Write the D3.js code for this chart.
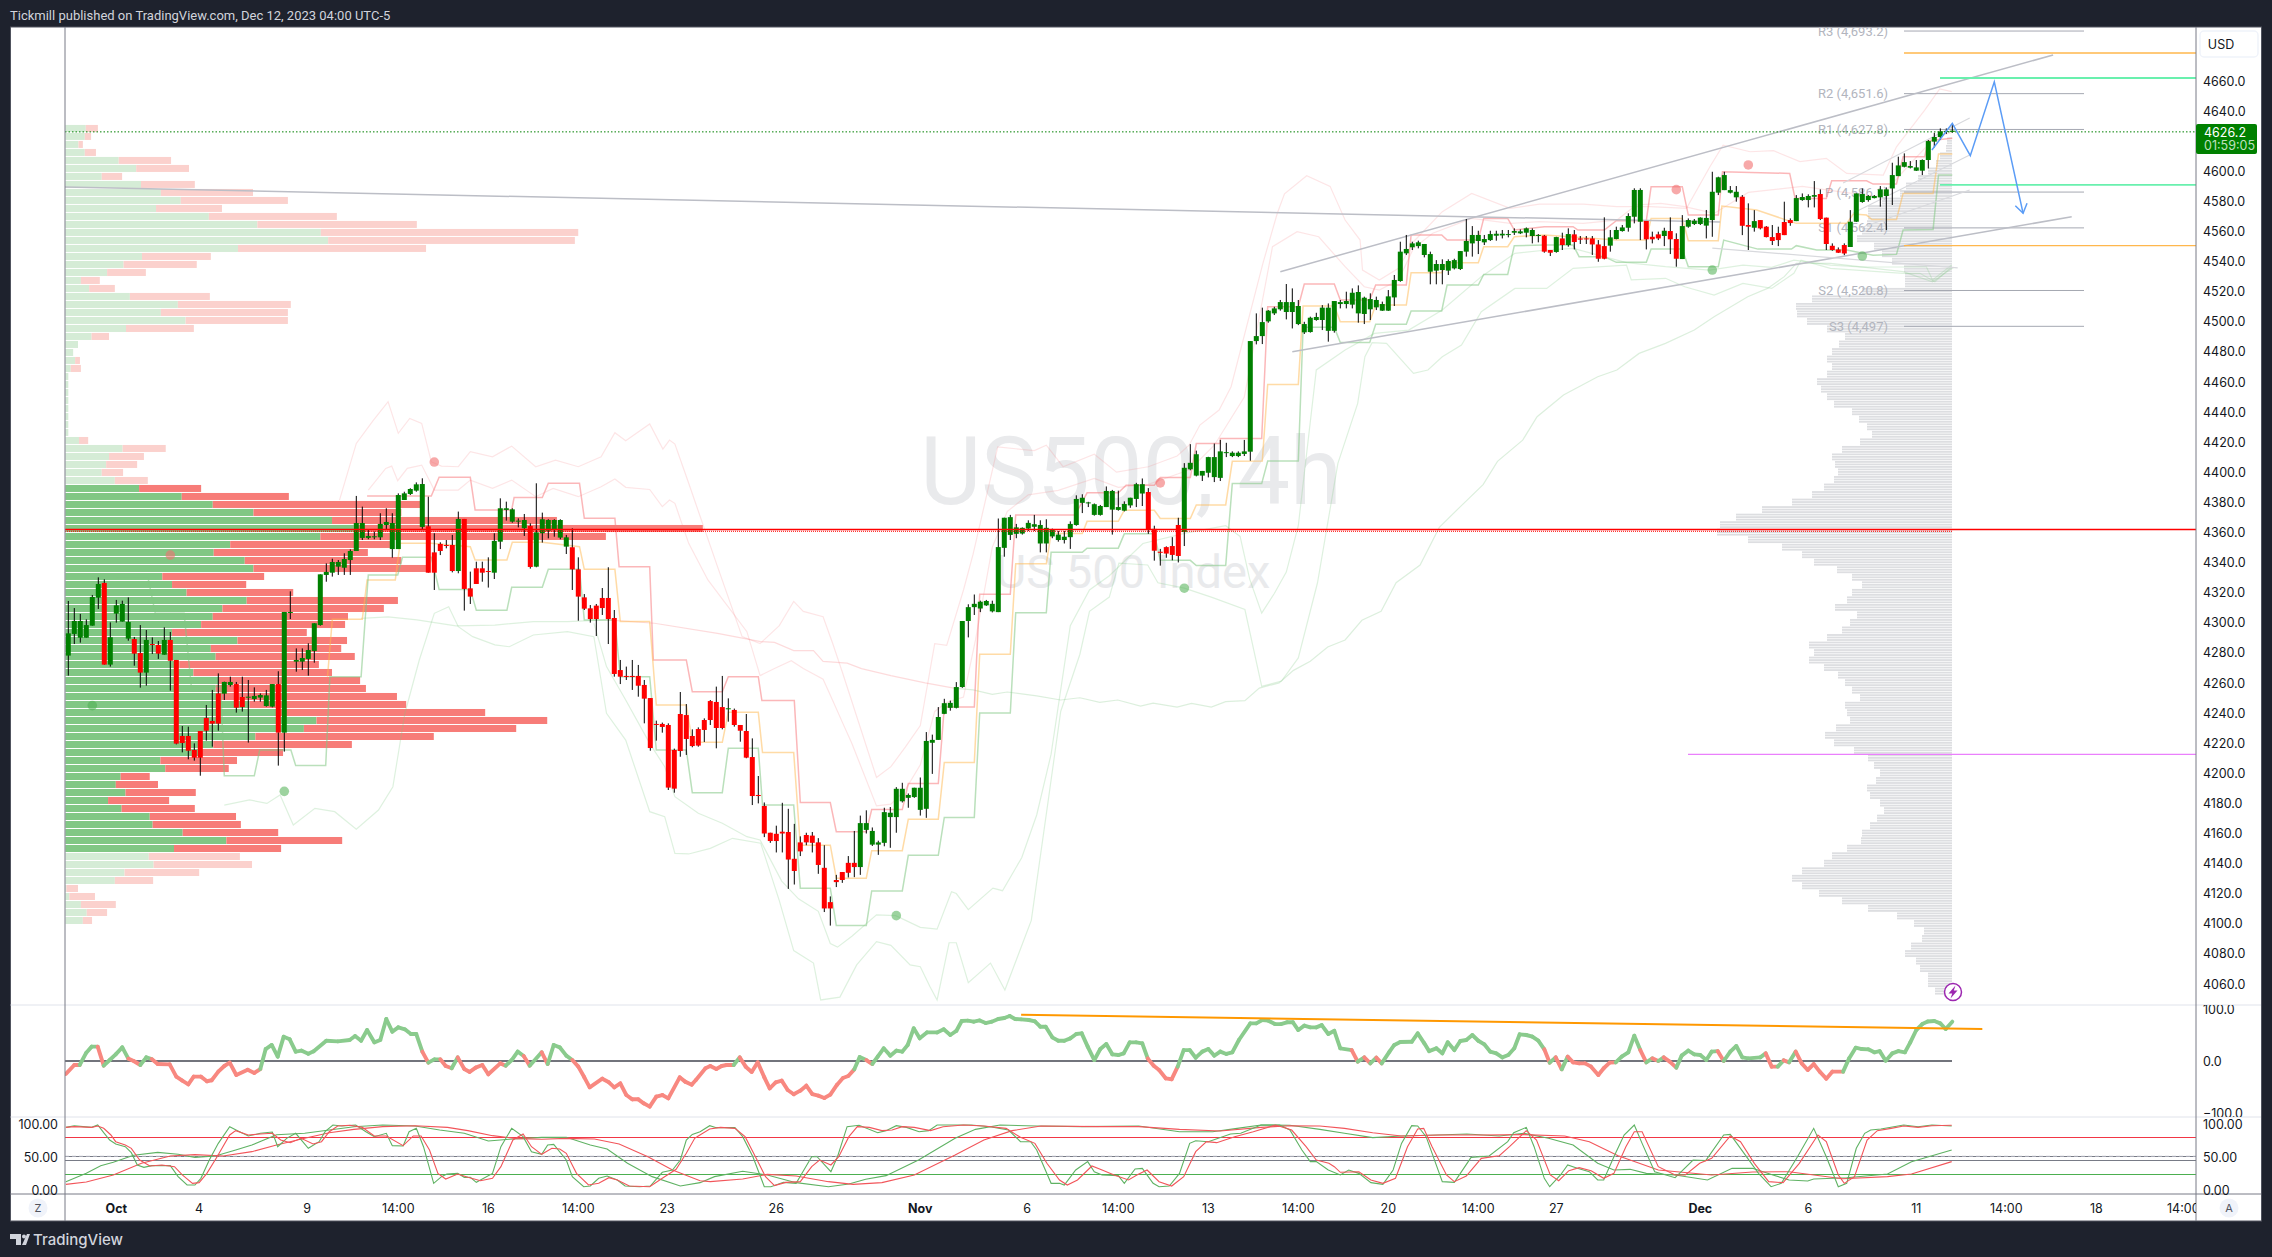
<!DOCTYPE html>
<html><head><meta charset="utf-8">
<style>html,body{margin:0;padding:0;background:#1e222d}svg{display:block}text{font-family:Inter,Roboto,"Liberation Sans",sans-serif}</style>
<script src="https://cdn.jsdelivr.net/npm/d3@7"></script></head><body><svg id="c" width="2272" height="1257"></svg>
<script>
// body top, body bottom, wick high, wick low per 4h bar
const candleRows=[[4293,4278.2,4314.5,4264.9],[4301.2,4292.6,4309.8,4285.9],[4301.2,4290.1,4305.9,4286.8],[4298.5,4290.1,4302.3,4290.1],[4317.2,4298.1,4318.5,4298.1],[4325.8,4316.7,4330.2,4309.2],[4326.5,4272.2,4328.9,4272.2],[4290.4,4272.2,4300.3,4270.9],[4311.6,4306.1,4315.2,4300.1],[4312.5,4300.8,4314.7,4300.8],
[4300.5,4289.5,4316.9,4288.1],[4289.2,4279.5,4290.6,4271.5],[4279.9,4266.9,4298.5,4256.9],[4288.6,4266.9,4295.2,4258.2],[4285.9,4285.3,4290.3,4279.3],[4285.3,4279.5,4287.9,4276],[4288.6,4278.8,4297,4278.8],[4288.6,4274.8,4293.9,4254.9],[4275.3,4219.7,4275.3,4219.2],[4224.8,4220.1,4231.4,4213.9],
[4224.8,4215,4231,4209.3],[4215.5,4210.4,4219.9,4208.4],[4228.1,4210.4,4228.1,4198.4],[4236.8,4228.3,4245.4,4221.7],[4234.8,4233,4255.4,4217.7],[4253.1,4233,4266.4,4228.3],[4260.7,4252.9,4260.9,4248.7],[4260.7,4258.7,4264.2,4257.6],[4259.3,4243.6,4260.7,4240.3],[4250.7,4244,4264.2,4241],
[4250.9,4250.3,4262,4220.4],[4251.4,4249.4,4257.1,4247.6],[4252,4250.3,4253.1,4247.6],[4251.8,4244.7,4255.4,4244.3],[4259.3,4244.3,4259.3,4243.8],[4259.3,4227,4267.8,4205.1],[4307.2,4227,4307.2,4214.4],[4307.2,4306.5,4320.9,4302.5],[4275.3,4274.2,4283,4267.5],[4276.6,4274.2,4283,4268.6],
[4281.9,4276,4286.4,4264.9],[4299.7,4281.3,4299.7,4273.5],[4332.2,4298.5,4332.2,4298.1],[4333.8,4331.8,4339.5,4327.3],[4340.4,4333.3,4342.6,4330.7],[4340.4,4337.3,4341.7,4331.8],[4342.4,4336.6,4346.2,4331.8],[4347.7,4341.7,4348.8,4331.8],[4366.3,4347.7,4384.3,4347.7],[4366.3,4356.4,4377.2,4355],
[4357.7,4356.4,4361.7,4355.5],[4357.5,4356.8,4360.6,4355.5],[4365.7,4356.8,4372.8,4355],[4367,4365,4376.1,4361.7],[4366.3,4349,4372.8,4343.3],[4384.9,4349,4386,4349],[4386,4381.6,4387.1,4381.6],[4388.9,4385.6,4389.4,4384.9],[4392,4387.8,4393.3,4387.1],[4392.2,4363.7,4396,4361.7],
[4364.1,4333.3,4383.8,4333.3],[4346.8,4333.3,4359.5,4321.8],[4352.4,4347.7,4353.5,4345],[4351.7,4351.3,4355,4349.5],[4351.7,4334.4,4358.4,4333.5],[4369,4334.4,4373.9,4332.9],[4369,4322.5,4369,4308.1],[4322.9,4317.4,4334,4312.5],[4336.2,4325.8,4340.6,4325.8],[4336.2,4333.3,4340.6,4327.3],
[4334.4,4333.8,4343.5,4323.4],[4354.4,4333.3,4359.5,4329.1],[4376.1,4353.9,4382.7,4349],[4376.1,4375,4380.5,4367.9],[4375.4,4367.2,4376.1,4366.5],[4367.9,4367.2,4369.4,4363.4],[4368.3,4362.8,4372.3,4357.7],[4364.3,4337.1,4366.1,4336],[4360.1,4337.3,4392.7,4336.9],[4368.8,4359.5,4373.2,4353.3],
[4368.3,4361.2,4368.8,4356.1],[4368.3,4361.7,4368.8,4357.2],[4368.3,4356.6,4368.8,4355.5],[4356.8,4350.6,4358.4,4345.7],[4350.2,4335.5,4362.8,4321.8],[4335.5,4317.4,4343.5,4301.4],[4316.9,4309.4,4319.1,4308.5],[4309.6,4302.5,4311.8,4300.1],[4311.4,4302.5,4312.5,4291.2],[4316.5,4309.8,4323.1,4305.2],
[4316.5,4302.5,4336.9,4285.9],[4303.2,4266,4308.5,4264.2],[4268.6,4264.2,4275.3,4259.3],[4264.7,4264,4270.9,4262],[4264.7,4264,4275.3,4255.4],[4264.7,4258.2,4272,4250.9],[4258.7,4249.6,4262,4233.2],[4250,4216.8,4250,4215],[4232.8,4232.1,4235,4221.7],[4232.8,4230.8,4233.7,4227],
[4232.1,4190.5,4233.2,4188.9],[4215.5,4189.8,4216.4,4187.1],[4239.4,4214.8,4254,4211],[4238.7,4222.8,4246,4212.2],[4224.8,4218.1,4229.2,4217.3],[4229.4,4218.4,4230.5,4217.7],[4235.4,4228.8,4236.5,4220.8],[4248,4235.4,4248.7,4232.1],[4247.4,4230.1,4257.6,4216.6],[4244,4230.1,4264.7,4229.2],
[4243.2,4242.7,4249.8,4234.3],[4242.1,4232.1,4243,4231],[4232.1,4228.3,4232.1,4221],[4228.1,4210.4,4239.4,4210],[4210.8,4184.9,4223.2,4178.9],[4185.6,4184.9,4198.2,4180],[4178.3,4160,4180.6,4157.6],[4160.5,4155,4160.5,4153.8],[4159.8,4155,4165.2,4147.4],[4161.2,4160,4180.4,4147.4],
[4161,4142.7,4176.4,4123.2],[4143.2,4135.1,4166.4,4126.1],[4154.1,4148.1,4158.1,4145],[4159,4154.1,4160.5,4152.2],[4158.6,4153.8,4161,4147.4],[4154.1,4139.1,4156.9,4133.2],[4137.2,4110.2,4152.2,4107.8],[4114.4,4110.2,4118.2,4098.8],[4129.1,4127.7,4132.5,4124.4],[4134.4,4129.1,4134.4,4127.2],
[4140.5,4133.9,4145,4130.8],[4140.5,4137.7,4161.7,4131],[4166.9,4137.7,4171.9,4132.5],[4166.9,4162.4,4175.4,4160],[4161.7,4152.6,4164,4151.7],[4154.1,4152.6,4155.2,4145.8],[4174.2,4153.8,4177.1,4151.5],[4173.8,4170.9,4177.6,4150.5],[4189.7,4170.9,4190.8,4160.5],[4189.7,4181.4,4193.7,4180.6],
[4185.6,4183.7,4186.6,4177.1],[4190.4,4184.2,4190.4,4183.7],[4190.4,4175.7,4197.2,4171.9],[4221.5,4176.4,4227.4,4170.4],[4222.2,4220.3,4225.7,4199.6],[4237.4,4222.2,4244,4222.2],[4246.6,4239.5,4249.5,4239.3],[4246.8,4243.5,4248.3,4241.6],[4257.3,4243.5,4260.6,4243.1],[4301.2,4257.3,4301.2,4256.8],
[4310.4,4301.2,4312.3,4290.3],[4312.6,4310.4,4318.8,4305.2],[4314,4309.5,4314.7,4307.1],[4314.5,4311.6,4315.2,4311.2],[4312.6,4307.6,4314.7,4306.9],[4350.3,4307.1,4369.3,4307.1],[4369.8,4349.8,4369.8,4343.9],[4370.2,4358.4,4371.7,4355],[4363.4,4359.1,4365.7,4356.2],[4363.1,4359.3,4363.4,4358.6],
[4366.4,4362.6,4368.1,4361],[4365.5,4363.8,4371.7,4361],[4365,4352.7,4368.1,4346.8],[4363.1,4352.7,4368.8,4346.8],[4362.2,4357.4,4362.6,4356.2],[4358.6,4355,4361,4353.9],[4357.2,4355,4361,4352.7],[4365.7,4356.9,4367.4,4349.1],[4382.3,4365,4384.7,4364.5],[4383.1,4379.7,4385.4,4372.9],
[4380,4379.5,4380.4,4376.9],[4378.8,4371.7,4379.3,4371.2],[4377.6,4371.7,4378.3,4371.2],[4387.6,4376.9,4390.6,4376.9],[4387.6,4375.2,4388.3,4358.6],[4376.9,4375,4387.8,4374.5],[4379,4374.5,4380.7,4374],[4383.1,4378,4383.1,4376.4],[4392.1,4382.3,4393,4376.9],[4392.1,4385.9,4395.9,4377.6],
[4386.9,4362.2,4389.5,4359.1],[4362.4,4347.9,4364.5,4341.3],[4347.2,4346.5,4349.1,4338],[4350.3,4346,4350.8,4343.2],[4351,4345.1,4356.9,4341.5],[4365,4344.4,4369.8,4340.1],[4403,4360.3,4406.1,4351],[4406.3,4402,4418.7,4401.3],[4412,4397.8,4414.4,4397.3],[4400.9,4397.8,4400.9,4394.2],
[4410.1,4399.7,4410.3,4396.6],[4410.1,4396.8,4419.1,4393.5],[4413.9,4396.3,4421.5,4394.2],[4413.4,4413,4419.6,4410.1],[4413,4410.8,4413.9,4410.1],[4413,4410.8,4413.9,4410.1],[4413.9,4412.2,4421.5,4410.8],[4487.2,4413.7,4487.2,4407.7],[4490.5,4487.2,4505.6,4485],[4499.8,4490.5,4509.4,4485.2],
[4507.4,4500.3,4507.8,4499.4],[4508.9,4505.6,4510,4504.5],[4513.1,4508.3,4514.5,4507.4],[4513.1,4506.5,4525.1,4501.6],[4513.1,4506.5,4522.2,4495.6],[4510.5,4498.5,4514.5,4497.8],[4498.5,4493,4500,4491.9],[4502.7,4493.2,4503.4,4492.8],[4503.2,4501.2,4506,4500.7],[4509.4,4501.2,4511.1,4494.5],
[4509.4,4494,4512.2,4486.8],[4513.8,4494,4513.8,4492.8],[4513.1,4511.8,4514.5,4508.9],[4513.8,4511.8,4520,4508.9],[4519.3,4511.4,4522.2,4508.9],[4519.8,4505.6,4524.2,4499.4],[4516,4505.2,4516.7,4498.5],[4515.1,4508.3,4518.9,4501.2],[4514.5,4509.6,4516.7,4507.8],[4511.8,4507.4,4513.4,4507.2],
[4516.9,4507.4,4521.1,4507.2],[4527.8,4516.2,4531.1,4510.5],[4546.6,4527.1,4553.2,4526.6],[4548.4,4545.5,4557.7,4544.4],[4552.1,4549.5,4553.2,4547.7],[4552.8,4550.3,4553.9,4548.8],[4551.7,4544.4,4551.7,4542.8],[4545,4533.3,4546.6,4524.9],[4538.4,4534,4541,4524.9],[4538.4,4534.4,4541.5,4524.9],
[4540.4,4534,4541.5,4531.1],[4541,4535.5,4541.9,4534.8],[4547,4535.1,4547,4534.4],[4553.7,4546.6,4568.3,4543.3],[4557.7,4552.1,4563.6,4543.3],[4557.7,4553.7,4560.5,4545],[4555,4552.8,4557.7,4551],[4558.3,4554.3,4560.5,4553.7],[4558.5,4557.2,4560.5,4553.9],[4558.5,4557.4,4561,4555.4],
[4558.3,4557.7,4561,4556.1],[4560.3,4559.2,4562.1,4557.7],[4560.1,4558.8,4561.4,4558.3],[4562.1,4559.2,4562.7,4556.1],[4561,4557,4562.1,4552.1],[4557.7,4557.2,4558.3,4552.8],[4557.2,4546.6,4557.7,4545.9],[4547.7,4545.9,4547.7,4543.7],[4556.3,4546.4,4556.5,4545.9],[4555.4,4551,4559.2,4547.7],
[4558.3,4551,4562.1,4549.9],[4558.1,4553,4561,4548.1],[4555.4,4554.6,4557,4551.7],[4555.4,4555,4557,4551.7],[4555.4,4551.4,4557,4544.4],[4551.4,4541.9,4554.3,4539.9],[4550.3,4541.9,4569.4,4541.5],[4556.1,4550.6,4561,4546.6],[4561,4555,4563.2,4554.8],[4562.7,4560.3,4564.3,4559.9],
[4570.3,4562.5,4572.1,4559.9],[4587.6,4569.8,4588.7,4565.4],[4587.6,4566.5,4588.7,4554.3],[4567,4554.8,4567,4548.1],[4556.5,4554.8,4559.9,4552.1],[4558.1,4555.4,4559.9,4554.3],[4560.5,4557,4562.5,4550.3],[4560.3,4554.8,4569.4,4545],[4555,4541.9,4558.8,4536.6],[4563.6,4541.7,4570.9,4541.7],
[4567.6,4563.2,4568.7,4562.5],[4567.2,4565,4568.3,4564.3],[4569.2,4565,4569.4,4564.3],[4569,4563.9,4574.3,4555.4],[4586.4,4567.6,4599.7,4556.5],[4596,4585.8,4596.4,4584.2],[4597.5,4587.5,4599.7,4587.5],[4587.5,4585.8,4590.2,4585.3],[4586.4,4582.7,4590.2,4579.8],[4583.1,4563.8,4584.2,4557.6],
[4564.3,4563.2,4578.7,4547.7],[4566.9,4562.5,4574.2,4559.9],[4567.6,4562.1,4567.6,4561.4],[4563.2,4556.3,4563.6,4556.1],[4556.3,4553.7,4564.3,4551],[4559,4554.3,4563.2,4550.3],[4566.3,4557.6,4579.8,4557.6],[4567.6,4565.6,4568.7,4563.8],[4582.2,4566.9,4584.2,4566.9],[4582.9,4580.9,4585.3,4580.4],
[4583.6,4580.9,4584.7,4576],[4584.2,4583.1,4593.5,4576],[4584.9,4568.3,4588,4567.6],[4569.2,4551.7,4569.2,4547.7],[4550.5,4547.7,4552.1,4547.2],[4548.1,4545.9,4549.4,4545.7],[4551,4545.4,4552.1,4544.3],[4566.5,4549.7,4574.2,4549.7],[4585.3,4566.5,4585.3,4566.3],[4584.9,4579.6,4588.6,4579.1],
[4583.6,4580.9,4584.2,4579.8],[4583.6,4582.2,4584.2,4582],[4588,4582.7,4590.2,4576.5],[4588,4583.6,4589.3,4561],[4597.5,4588.6,4605.7,4577.6],[4603.9,4596.8,4609.7,4596.8],[4606.1,4603,4611.9,4602.6],[4603.5,4602.4,4606.8,4601.9],[4602.6,4600.4,4607.5,4600.2],[4607.5,4600.4,4607.9,4597.5],
[4620.1,4607.5,4620.8,4601.9],[4622.8,4619.7,4625.6,4615.9],[4626.5,4622.8,4628.5,4620.8],[4626.7,4626.1,4628.5,4624.8],[4627,4626.2,4631.4,4625.6]];
const candleDirections=("GGGGGGRGGG"+"GRRGRRGRRR"+"RRRRRRGGRR"+"GGGGGRGGGG"+"GGGGGGGGGG"+"GGGGGGGGGG"+"RRRRRGRRRR"+"RGGGGGGRGG"+"GGGGRRRRRR"+"RRRRRRRRRR"+"RRRRRRRRRR"+"GRRRRRRRRR"+"RRRRRRRRRR"+"RRGGGGGGGG"+"GGGGGGGGGGGGGGGGGGGGGGGGGGGGGGGGGGGGGGGG"+"RRRRRRGGGG"+"GGGGGGGGGGGGGGGGGGGGGGGGGGGGGGGGGGGGGGGGGGGGGGGGGG"+"GGGGGGRRGR"+"GRRRRRRGGG"+"GGGRRRGRRG"+"GGGGGGGGGR"+"RGRRRRRRGG"+"GGRRRRRGGG"+"GGGGGGGGGGGGGGG").split("");

const priceTicks=[4060,4080,4100,4120,4140,4160,4180,4200,4220,4240,4260,4280,4300,4320,4340,4360,4380,4400,4420,4440,4460,4480,4500,4520,4540,4560,4580,4600,4640,4660];
const timeTickLabels=["Oct","4","9","14:00","16","14:00","23","26","Nov","6","14:00","13","14:00","20","14:00","27","Dec","6","11","14:00","18","14:00"];
const timeTickBars=[8,21.8,39.8,55,70,85,99.8,118,142,159.8,175,190,205,220,235,248,272,290,308,323,338,352.5];
const timeTickBold=["Oct","Nov","Dec"];

// left volume profile: buy / sell volume per price row (top to bottom)
const profileUp=[42,40,27,40,110,146,75,156,197,238,187,296,396,527,542,356,158,120,86,32,49,133,232,197,248,125,54,26,16,20,11,6,6,6,6,6,6,6,6,28,118,90,84,75,102,152,240,304,388,550,595,526,340,306,370,388,200,220,250,374,324,304,280,220,355,300,310,235,264,315,310,315,380,435,518,492,392,305,280,196,206,114,104,124,88,116,174,180,242,332,224,172,182,122,102,2,8,32,44,36];
const profileDown=[25,13,9,23,108,109,42,111,190,221,136,264,329,531,509,388,142,151,80,39,53,165,233,262,211,140,36,0,0,10,21,0,0,0,0,0,0,0,0,19,89,72,64,44,68,128,221,428,305,464,720,589,335,318,323,357,210,153,220,312,333,279,297,278,226,269,287,288,286,293,310,369,323,431,476,438,368,286,169,158,131,60,87,145,126,151,178,182,197,239,221,188,203,154,79,24,53,72,42,19];

// right fixed-range volume profile, one value per 5-point price bin from the top
const rightProfile=[5,6,12,16,24,34,46,52,70,84,84,85,90,95,78,70,60,48,47,47,90,140,156,155,145,125,107,113,120,125,120,125,135,131,125,118,100,93,85,80,92,110,120,117,114,118,128,140,160,190,216,232,235,204,170,150,138,115,100,90,100,105,117,95,102,110,125,143,138,143,128,114,107,100,92,107,105,102,116,127,118,98,84,78,72,76,85,82,72,68,75,82,90,91,105,120,128,150,160,150,133,110,84,55,38,28,30,41,47,36,32,24,24,17];

const pivotNames=["R3 (4,693.2)","R2 (4,651.6)","R1 (4,627.8)","P (4,586.1)","S1 (4,562.4)","S2 (4,520.8)","S3 (4,497)"];
const pivotValues=[4693.2,4651.6,4627.8,4586.2,4562.4,4520.8,4497];

// stepped levels [bar, price]
const stepRed=[[49.8,4384.3],[54.5,4384.3],[60.5,4384.3],[61.8,4396.7],[67,4396.7],[67.8,4375],[73.9,4375],[74.3,4383.2],[79,4383.2],[80,4392.7],[85.2,4392.7],[86,4369.4],[91.1,4369.4],[91.8,4337.3],[96.9,4337.3],[97.5,4275.3],[103,4275.3],[104,4254.2],[109,4254.2],[110,4264.2],[115,4264.2],[115.6,4248.3],[121,4248.3],[122,4180.6],[127,4180.6],[128,4161.2],[133,4161.2],[133.9,4175.9],[139,4175.9],[140,4193.2],[145,4193.2],[146,4244],[151,4244],[151.9,4319],[157,4319],[157.9,4371.7],[167.8,4371.7],[169.8,4386.4],[175,4386.4],[176.3,4391.4],[181,4391.4],[182,4396.6],[187,4396.6],[188,4419.1],[192,4419.1],[192,4422.5],[198.9,4422.5],[199.9,4510],[205,4510],[206,4525.1],[211,4525.1],[212,4514.5],[216.9,4514.5],[217.9,4524.4],[223,4524.4],[223.8,4557.7],[228.9,4557.7],[229.8,4554.3],[235,4554.3],[235.9,4568.7],[239.9,4568.7],[241,4561],[246,4563.2],[250.8,4563.2],[251.6,4561],[256,4561],[258,4567.2],[263,4567.2],[263.8,4589.8],[269,4589.8],[270,4570.9],[275,4570.9],[275.7,4599.7],[286.9,4598.6],[287.8,4582],[293,4582],[293.9,4593.7],[299.7,4593.7],[300.8,4591.5],[304.7,4591.5],[305.8,4609.7],[309.4,4609.7],[310,4620.3],[314,4622]];
const stepOrange=[[43.2,4264.2],[44,4302.3],[49,4302.3],[49.8,4328.5],[54.5,4328.5],[55.3,4352.8],[60.5,4352.8],[67,4350.6],[67.8,4341.7],[73.1,4341.7],[74,4353.5],[79,4353.5],[85.2,4350.6],[86,4335.5],[91.1,4335.5],[92,4300.8],[96.9,4300.8],[98,4245.4],[103,4245.4],[104,4220.6],[109,4220.6],[110,4240.5],[115,4240.5],[115.7,4213.9],[120.9,4213.9],[122,4152.2],[127,4152.2],[128,4130.3],[133,4130.3],[133.9,4148.6],[139,4148.6],[140,4169.5],[145,4169.5],[146,4207.2],[151,4207.2],[151.9,4279.1],[157,4279.1],[157.9,4339.2],[163,4339.2],[163.8,4359.3],[169,4359.3],[169.8,4367.4],[175,4367.4],[176,4374.8],[181,4374.8],[182,4369.3],[187,4369.3],[188,4378.3],[192.9,4378.3],[194,4407.3],[199,4407.5],[199.9,4458.4],[205,4458.4],[205.8,4510.5],[211,4510.5],[212,4500],[216.9,4500],[217.9,4511.1],[223,4511.1],[223.8,4532.6],[228.9,4532.6],[229.8,4539.3],[235,4539.3],[235.9,4549.9],[239.9,4549.9],[241,4556.5],[246,4557.7],[258,4554.3],[263,4554.3],[263.8,4568.7],[269,4568.7],[270,4553.9],[275,4553.9],[275.6,4576.9],[281.4,4574.3],[288,4565.4],[296.4,4565.4],[297.5,4571.6],[299.7,4570.9],[300.6,4568],[304.7,4568],[305.8,4585.3],[310.8,4585.3],[311.7,4611.5],[314,4611.5]];
const stepGreen=[[8,4329.6],[13.3,4329.6],[14.5,4306.3],[19.3,4306.3],[20.5,4257.6],[25.4,4257.6],[26,4198.4],[31,4198.4],[31.9,4215.5],[37.1,4215.5],[37.9,4205.1],[42.9,4205.1],[43.6,4264.2],[48.8,4264.2],[50,4331.8],[54.9,4331.8],[55.7,4343.5],[60.5,4343.5],[61.8,4322.2],[67,4322.2],[68,4308.3],[73.1,4308.3],[73.9,4323.6],[79,4323.6],[80,4335.5],[85.2,4335.5],[86,4301.9],[91.1,4301.9],[92,4264.2],[96.9,4264.2],[98,4215.5],[103,4215.5],[104,4187.1],[109,4187.1],[110,4216.6],[115,4216.6],[115.7,4179],[120.9,4179],[122,4123.7],[127,4123.7],[128,4098.8],[133,4098.8],[133.9,4121.8],[139,4121.8],[140,4145.5],[145,4145.5],[146,4170.7],[151,4170.7],[151.9,4240],[157,4240],[157.9,4306.6],[163,4306.6],[163.8,4346.8],[169,4346.8],[169.8,4349.6],[175,4349.6],[176,4359.1],[181,4359.1],[182,4341.5],[187,4341.5],[188,4338],[192.9,4338],[194,4392.5],[198.9,4392.5],[199.9,4407.5],[205,4407.5],[205.8,4496.3],[211,4496.3],[212,4486.3],[216.9,4486.3],[217.9,4498.3],[223,4498.3],[223.8,4507.2],[228.9,4507.2],[229.8,4524.4],[235,4524.4],[235.9,4531.5],[239.9,4531.5],[241,4550.6],[246,4551],[250.8,4551],[251.8,4543.3],[256,4543.3],[258,4539.5],[263,4539.5],[263.8,4548.3],[269,4548.3],[270,4536.6],[275,4536.6],[275.9,4554.3],[281.6,4548.3],[287.2,4548.3],[288,4550.6],[291.4,4547.7],[296.4,4547.7],[300.8,4544.3],[304.7,4544.8],[305.8,4561],[310.8,4561.4],[311.7,4597.5],[314,4597.5]];

// pale envelope bands [bar, price]
const bandUpperOuter=[[45.2,4381.5],[48,4419.2],[50.8,4434.3],[53.3,4446.9],[55,4425.9],[56.9,4435.8],[58.9,4432.5],[60.5,4407],[62.2,4404.1],[65,4403.7],[67,4413.7],[70.7,4410.3],[73.9,4417.4],[77.9,4403.7],[81.2,4408.1],[85,4403.7],[88.8,4410.3],[91.1,4426.3],[92.9,4421],[96.9,4432.1],[99.1,4415.4],[100.2,4421.4],[101.1,4418.8],[103.4,4392.7],[108.2,4337.3],[112.3,4290.8],[115.3,4286.2],[118.5,4298.1],[120.9,4314.2],[122.5,4307.6],[125.8,4304],[127.4,4286.2],[129,4267.3],[134.7,4197.2],[137.1,4204.4],[139.5,4217.4],[142,4231.7],[144.4,4286.2],[146.4,4285],[149.2,4321.8],[150.8,4345.6],[154.9,4416.8],[161,4414.4],[163,4418],[165.8,4403.7],[171,4412],[174.7,4400.1],[180,4403.7],[184.8,4410.8],[186.8,4418],[188.6,4431.4],[191.8,4441.4],[193.8,4456.9],[199.1,4538.8],[201.5,4572.1],[202.7,4585],[206.4,4597],[210.3,4590],[212.8,4567.6],[215.3,4554.3],[215.7,4534.4],[218.5,4527.8],[221.7,4535.5],[224.2,4553.2],[229,4573.2],[233.9,4585.3],[240.3,4575.4],[245.2,4578.2],[252.5,4578.2],[258.1,4576.5],[263.6,4576.5],[269.7,4575.4],[273.6,4603],[275.8,4617.4],[280.3,4613],[284.2,4613.7],[288.6,4606.4],[293,4608.6],[296.4,4598.6],[302.5,4597.5],[304.7,4616.3],[309.4,4640.7],[311.9,4654.7],[313.9,4652.9]];
const bandUpperInner=[[50,4388.2],[52.9,4402.6],[53.9,4404.1],[54.9,4394.4],[56.5,4402.6],[58.9,4404.8],[61,4388.2],[65,4388.2],[67,4394.8],[70.7,4389.3],[73.9,4394.8],[77.9,4383.8],[80.8,4389.3],[85,4383.8],[88.8,4390.4],[91.1,4395.5],[92.9,4390],[96.9,4388.6],[99,4377.2],[100.2,4381.6],[101.1,4379.4],[103.4,4352.8],[106.6,4328.5],[113.1,4294.1],[115.3,4264.9],[117.7,4269.6],[120.5,4274.8],[122.5,4269.6],[125.8,4262.5],[127.4,4248.3],[129,4234],[130.6,4219.8],[134.7,4178.3],[137.1,4179.5],[139.5,4189],[142,4205.6],[144.4,4241.1],[146.4,4247.1],[149.2,4250.6],[151.2,4288.6],[154,4350.3],[156.5,4374],[160,4385],[165,4388],[171,4396],[175,4390],[180,4392],[185,4399],[187,4402],[191,4418],[196,4450],[200.7,4549.9],[204.8,4559.9],[208.4,4556.5],[212.8,4536.6],[216,4523.3],[218.5,4521.1],[221.7,4527.8],[224.2,4548.8],[227.4,4558.8],[233.9,4568.7],[240.3,4565.4],[245.2,4566.5],[252.5,4565.4],[258.1,4567.6],[261.3,4577.6],[265.4,4578.7],[269.4,4576.5],[274.3,4572],[280,4586],[289,4590],[296,4586],[302,4583],[307,4605],[311,4622],[314,4626]];
const bandMid=[[48.8,4303],[53.3,4304],[58.1,4301.9],[64.6,4297.9],[71.1,4298.5],[77.5,4300.8],[83.2,4300.8],[89.7,4301.9],[97.7,4299.7],[108.2,4293],[115.4,4287.5],[117.7,4287],[120.9,4281.5],[124.2,4281.5],[125.8,4274.4],[129.8,4273.2],[132.2,4269.6],[137.1,4264.9],[142.8,4260.1],[147.6,4256.6],[150.8,4255.4],[154,4252.5],[156.5,4254],[161.4,4251.4],[165.4,4248.7],[168.6,4250.2],[171.9,4247.1],[174.9,4248.7],[178.7,4244.7],[180.8,4246.6],[184.8,4244],[187.2,4246.4],[190.5,4244],[192.9,4247.6],[196.1,4248.3],[198.5,4256.6],[201.8,4260.1],[204.2,4268.4],[207,4274.4],[209.9,4283.9],[212.8,4288.6],[215.6,4301.7],[218.8,4307.6],[221.3,4326.6],[225.3,4338.4],[228.5,4363.4],[231.8,4376.4],[235.8,4391.8],[238.2,4407.3],[242.4,4421.4],[244.8,4436.9],[249.2,4451.3],[254.9,4463.5],[258.1,4468],[261.8,4479],[266.2,4485.7],[271,4494.5],[274.3,4503.4],[279.9,4516.7],[283.2,4522.2],[286,4530],[288,4538.8],[293.7,4538.8],[301,4535.5],[305.8,4533.3],[310.7,4526.6],[313.1,4533.3],[314.3,4536.2]];
const bandLowerInner=[[87.6,4299.7],[89.7,4270.9],[92.9,4248.7],[96.9,4219.9],[99.4,4204.4],[101.1,4184.5],[105,4173.4],[109,4166.8],[113.1,4157.9],[115.3,4155.7],[118.9,4128.4],[121.7,4116.6],[125,4108.3],[127,4086.9],[128.2,4084.5],[130.6,4091.7],[134.7,4105.9],[137.9,4105.4],[142,4097.6],[144.8,4096.4],[147.2,4121.3],[148,4120.1],[150,4109.4],[154.1,4123.7],[155.7,4122],[158.9,4143.9],[161.4,4172.3],[163.8,4212.7],[167,4298.1],[170.2,4321.8],[173.5,4331.3],[179.1,4352.7],[186.4,4359.8],[192.9,4364.5],[195.3,4357.4],[196.9,4329],[198.9,4306.4],[201,4319.5],[203,4333.7],[205,4364.5],[208,4468],[212.8,4481.2],[217.7,4492.3],[223.4,4494.5],[229,4507.8],[235.5,4530],[241.1,4545.5],[246.4,4547.7],[250.8,4548.8],[259.7,4539.3],[266.2,4536.6],[273.5,4534.4],[279.1,4537.7],[283.9,4536.2],[287.6,4541],[293.7,4537.7],[298.6,4536.4],[309.7,4536.4],[310.7,4527.8],[313.9,4537.8]];
const bandLowerOuter=[[26,4178.9],[30.2,4182.3],[33.1,4180],[35.3,4185.6],[37.5,4165.6],[41.1,4176.7],[44.4,4174.5],[48,4162.8],[51.7,4175.6],[54.1,4191.1],[56.1,4239.9],[58.5,4275.3],[61,4306.3],[63.4,4310.7],[65,4297.4],[67.4,4290.8],[71.1,4285.3],[73.5,4284.1],[77.5,4291.9],[83.2,4294.1],[87.6,4290.8],[89.7,4239.9],[92.9,4222.1],[96.9,4174.5],[99.4,4171.2],[101.1,4146.8],[103.4,4146.4],[107,4150.1],[110.7,4156.8],[115.4,4153.5],[116.1,4145],[118.5,4115.4],[120.9,4082.2],[124.2,4073.9],[125.4,4049.4],[128.6,4051.3],[131.4,4072.7],[134.7,4088.1],[137.1,4085.7],[140.3,4072.7],[142,4071.5],[143.6,4058.4],[144.8,4049.4],[146.8,4087.4],[148,4087.4],[150,4060.8],[153.7,4073.9],[156.1,4056],[160.5,4102.3],[163.4,4184.2],[165.4,4241.1],[168.6,4279.1],[170.2,4307.6],[173.5,4317.1],[175.1,4339.6],[179.9,4338.4],[181.6,4326.6],[186,4323],[190.5,4317.1],[196.1,4308.8],[198.9,4257.8],[202.2,4261.3],[205,4276.7],[208.2,4326.6],[211.6,4405.9],[214.9,4445.8],[216.1,4476.8],[217.3,4486.1],[219.7,4485.7],[224.2,4465.7],[226.6,4468],[229,4476.8],[232.2,4484.6],[235.5,4506.7],[241.1,4522.2],[246.4,4522.2],[250.8,4535.5],[259.7,4537.7],[260.5,4527.8],[266.2,4528.9],[269.4,4523.3],[274.3,4517.8],[279.1,4525.5],[283.9,4522.2],[287.6,4532.2],[288.8,4541],[293.7,4535.5],[305.8,4532.2],[308.6,4532.2],[311.1,4526.6],[313.9,4536.6]];

// horizontal drawings and trendlines
const trendGray=[[[-0.55,4589.6],[275.3,4566.3]],[[202,4533.3],[330.8,4677.3]],[[204,4480.1],[333.9,4569.8]]];
const trendPale=[[[295.8,4592.2],[316.9,4635.4]],[[297.5,4572.3],[316.9,4610.8]],[[298.6,4562.3],[316.9,4587.6]],[[274,4549],[314.9,4535.8]]];
const forecastPath=[[310.6,4614.2],[314,4631.9],[317,4610.4],[321,4659.5],[325.8,4572.1]];
const pivotHighs=[[61,4406.8],[17,4345],[182,4393],[268,4587.8],[280,4604.2]];
const pivotLows=[[4,4245],[36,4188],[138,4105.4],[186,4323],[274,4534.4],[299,4543.7]];
const levelOrange=[4678.6,4550.6];
const levelGreen=[4662,4591];
const levelPurple=4212.6, levelRed=4362, lastPrice=4626.2;

// CCI [bar, value]
const cciPoints=[[-0.4,-25],[1,-7.7],[1.9,-7.7],[3,16],[3.9,27.6],[4.9,27.6],[5.9,-9],[6.9,1.9],[7.9,12.8],[9,26.3],[10,4.5],[10.9,0],[12,-7.7],[13,7],[13.9,3.8],[14.9,-5.8],[16.9,-6.4],[18,-30],[19,-37.8],[20,-44.9],[20.9,-30],[22.1,-30],[23.1,-39],[23.9,-37],[25,-20.5],[26,-9.6],[26.9,-3.2],[28,-27],[29.9,-16.7],[31,-23],[32,-15.4],[32.9,23],[33.9,30.8],[34.9,8.3],[35.9,46.8],[36.9,41.7],[37.9,18],[38.9,19.9],[40,14],[40.9,18.6],[43,39],[44.9,37.8],[46.9,40.4],[47.8,48],[48.8,39],[49.8,59.6],[51,35.9],[52,40.4],[53,80.8],[54,56.4],[55,64.7],[56.1,60.9],[57.1,51.9],[58,51.9],[59,18],[60,-3.2],[61,3.2],[62,3.2],[62.9,-9.6],[63.9,-14],[64.9,7],[66,-15.4],[66.9,-21],[67.9,-12.8],[69,-7.7],[70,-25.6],[72,-4.5],[72.9,-9],[73.9,1.9],[74.9,18],[75.9,9.6],[76.9,-9],[78.9,16.7],[79.9,-5.8],[80.9,30.8],[81.9,26.3],[83,10.3],[84,1.9],[85,-10.9],[86,-31.4],[86.9,-50.6],[89,-34],[90.1,-41],[91,-50.6],[92,-43],[93,-65.4],[94,-73.7],[95,-73.7],[95.9,-81.4],[96.9,-87.8],[98,-68.6],[99,-65.4],[100,-71.8],[101.9,-31.4],[102.8,-39.7],[103.9,-45.5],[104.6,-36.5],[106.2,-14],[107,-9.6],[108,-15.4],[108.9,-9.6],[109.7,-7.7],[110.9,-7.7],[111.9,7],[112.9,-10.9],[113.9,-21],[114.9,-2.6],[116,-31.4],[116.9,-52.6],[117.9,-41],[118.9,-37.8],[119.9,-55.8],[120.9,-64],[122,-57],[123,-47.4],[124,-63.5],[125,-66.7],[126,-71.2],[127,-64.7],[128.1,-46],[129.1,-32.7],[130,-28.8],[131,-16],[131.9,7.7],[133,1.9],[134,-5.8],[134.9,8.3],[135.9,24.4],[137,10.3],[138,19.9],[139,18],[139.9,30.8],[140.9,62.8],[141.9,43.6],[143.1,55],[144.8,55],[145.9,60.9],[147,50],[148,57.7],[148.9,76.9],[149.9,77.6],[150.9,75.6],[151.9,78],[152.9,73],[153.9,75.6],[155,80.8],[156,82.7],[156.9,86.5],[157.8,80.8],[158.8,80],[160.1,78.8],[161.1,76.3],[162,66],[162.9,66],[164,45.5],[165,39],[166,39],[167,43.6],[168,51.9],[168.9,53.2],[169.9,27.6],[171,1.9],[172,23],[173,32.7],[174,12.8],[175,11.5],[175.9,14.7],[176.9,35.9],[178,35.9],[179,34],[179.9,5],[180.9,-9],[181.8,-17.3],[182.9,-33.3],[183.9,-35],[184.9,-10.9],[185.9,21],[186.9,21],[187.9,6.4],[189,18],[190,23],[191,10.3],[192,18],[193,13.5],[194,16.7],[195.1,40.4],[197,72.4],[198,72.4],[199,78.8],[200,77.6],[201.1,71],[202.1,71],[203.1,74.4],[204.1,74.4],[205,59.6],[206,68],[207,64.7],[208,64.7],[208.9,69],[210,52],[211,58],[212,24.4],[213.9,21],[214.9,-1.3],[216,7],[217,-4.5],[218,6.4],[218.9,-4.5],[220.2,18],[221,30.8],[222,36.5],[223.9,37],[224.9,53.2],[226,34],[226.8,19],[228,24.4],[229,14.7],[229.9,35.9],[231,21],[232,38.5],[233,40.4],[234,50],[235,39],[236,32],[237,18],[238,14.7],[239,7],[240,11.5],[241,24.4],[241.9,51.3],[243,50],[244,46.8],[245,39],[246,22.4],[246.9,-3.2],[247.9,7],[248.9,-16],[249.9,8.3],[250.8,-2.6],[251.8,-4.5],[252.8,-4.5],[253.8,-10.9],[255,-26.9],[255.9,-14],[256.9,-3.2],[257.9,-2.6],[258.9,8.3],[260,16.7],[261,48.7],[262,21],[263,-2.6],[264,5],[265,0],[265.9,7],[266.9,-1.3],[268,-12.8],[268.9,10.3],[270,19.9],[271,12.8],[272,11.5],[273,1.9],[273.9,18],[274.9,19],[275.9,0],[277,18],[278,28.8],[279,7],[280,5],[282,7],[282.9,14.7],[283.9,-10.9],[284.9,-10.9],[285.9,1.3],[286.8,-2.6],[287.9,18],[288.9,-4.5],[289.9,-17.3],[290.9,-5.8],[291.9,-20.5],[293,-34],[294,-20.5],[295.8,-20.5],[296.8,5],[297.9,25.6],[298.9,23],[300,22.4],[301,16.7],[301.9,19],[302.9,0.6],[304,14.7],[305,19],[306.1,16.7],[307,35.9],[308,59.6],[309,71],[309.9,76],[311,77],[312,72.4],[312.9,61.5],[314,75.6]];
const cciTrend=[[158.8,89],[319,61.5]];

// stochastic pairs [bar, value]
const stochFastGreen=[[-0.4,96.2],[1,98.9],[3.9,96.2],[4.9,100],[5.9,87.6],[6.9,75.8],[7.9,69.4],[9.5,65],[10.5,55.4],[11.5,35.5],[12.6,31.7],[13.9,34.4],[15.6,34.4],[17,34.4],[18.3,16.7],[19.8,3.2],[21.1,3.2],[22.1,14],[23.5,43.5],[25,70.4],[26.9,97.3],[28.2,90.9],[30,82.3],[32,86.6],[34,88.7],[34.9,65],[36.4,78.5],[37.9,86.6],[40,62.4],[41.8,73.1],[42.8,89.2],[44.1,100],[45.6,98.4],[47.9,100],[49.6,89.2],[51,81.2],[53,86.6],[54,66.7],[55.8,66.1],[56.8,89.2],[58,94.6],[59.2,65],[60.9,5.9],[62.2,16.7],[63.1,21],[64.9,22],[66,15.6],[67,15.6],[68,7.5],[70.7,22],[72.1,65],[73.9,94.6],[75.8,81.2],[77.2,57],[78.9,52.7],[79.9,67.7],[80.9,68.8],[83,43.5],[84,16.7],[85.9,0.5],[87,1.6],[88.4,14],[89.8,17.7],[91.5,11.3],[92.8,1.6],[95.2,0.5],[97,1.6],[99,23.7],[100.7,27.4],[102,43.5],[103,75.8],[104,84.9],[105.3,89.2],[106.9,98.9],[108,95.7],[111.1,95.7],[112.4,81.2],[114.1,48.9],[116,0.5],[117.1,0.5],[119.2,7.5],[121.3,5.9],[122.6,27.4],[123.9,48.9],[124.8,48.9],[127.1,24.7],[128.2,48.9],[129.8,97.3],[131.8,99.5],[134.9,87.6],[136.3,90.9],[138,98.9],[139.7,96.2],[141.8,89.2],[143.4,90.9],[144.8,100],[147.1,100],[150.5,100],[153.6,97.3],[156.7,91.9],[158.7,73.1],[160.4,73.1],[161.4,59.7],[163.8,5.9],[165.2,5.9],[166,3.2],[167.9,27.4],[169.9,40.9],[171,24.7],[172.3,19.4],[175,18.3],[176,5.9],[177.8,29],[179,30.1],[180.8,5.9],[181.8,0.5],[183.5,1.6],[185.2,22],[186.9,70.4],[187.9,74.7],[190,73.1],[193.7,85.5],[195.4,86.6],[198.8,100],[201.9,100],[203.6,91.9],[205.6,59.7],[207,40.9],[208,40.9],[210,27.4],[212,19.4],[213.4,27.4],[215.1,22],[217.1,7],[219.1,4.3],[220.8,27.4],[222.2,70.4],[223.9,98.9],[224.9,98.4],[226.3,81.2],[229,8.6],[231,7.5],[233.8,47.8],[236.8,50],[239.9,73.1],[240.9,87.6],[243,96.2],[244.3,65],[246,14],[246.9,0.5],[248.7,19.4],[249.9,35.5],[251.5,30.1],[253.5,24.7],[254.9,11.3],[255.9,11.3],[257.6,48.9],[259.3,83.9],[261,100],[262.3,70.4],[264.4,24.7],[265.7,21],[267.8,15],[270.8,43.5],[272.9,42.5],[275.9,83.9],[277,84.9],[279.3,54.3],[281.7,22],[283.8,0.5],[285.5,5.9],[288.2,48.9],[290.9,94.6],[293,48.9],[295,0.5],[296.4,5.9],[298,62.4],[299.4,86.6],[300.4,91.9],[302.1,93.5],[305.9,100],[308.3,97.3],[310.6,100],[313.9,98.4]];
const stochFastRed=[[-0.4,96.2],[1,97.3],[3.9,96.2],[4.9,98.4],[5.9,94.6],[7.1,83.9],[7.9,73.1],[9.5,67.7],[10.5,62.4],[11.9,43.5],[13.6,33.9],[15.6,35.5],[17.7,32.8],[19,19.4],[20.7,5.9],[21.8,7],[23.1,22],[24.8,48.9],[26.9,83.9],[27.9,90.9],[30,83.9],[32,85.5],[34,86.6],[35.4,75.8],[37,71.5],[38.8,78.5],[40.8,69.4],[42.2,73.1],[43.5,89.2],[44.9,98.4],[46.9,99.5],[49,96.2],[51,82.3],[53,82.3],[55.8,66.7],[57.5,82.3],[58.8,82.3],[60.2,59.7],[61.6,22],[62.9,12.9],[64.9,21],[66.6,15.6],[68.7,10.2],[70.7,14],[72.1,32.8],[74.1,75.8],[75.8,85.5],[77.2,65],[78.9,52.7],[80.6,62.4],[81.9,61.3],[83,54.3],[84.7,22],[86.7,3.2],[88.4,5.9],[90.1,15],[91.5,11.3],[93.5,1.6],[96.9,0.5],[99,14],[101.3,28.5],[103,54.3],[104.4,78.5],[105,82.3],[106.9,93.5],[108.7,96.2],[111.1,94.6],[112.8,81.2],[114.8,43.5],[116.2,16.7],[117.7,2.2],[119.6,7.5],[122,8.6],[123.9,32.8],[125.2,43.5],[127.1,35.5],[128.4,48.9],[130.1,81.2],[131.5,97.3],[133.5,96.2],[135.6,90.9],[137.3,91.9],[139,97.3],[141,96.2],[143.7,90.9],[145.8,97.3],[149.2,100],[152.6,98.4],[156.3,94.6],[158.7,80.1],[161.1,70.4],[163.1,38.2],[165.2,11.3],[166.5,3.2],[168.2,11.3],[170.6,33.9],[172.3,27.4],[174.3,19.4],[176.7,11.3],[178.1,19.4],[179.8,27.4],[181.8,8.6],[183.9,1.6],[185.9,16.7],[187.9,57],[189.7,73.1],[191.4,71.5],[194.4,81.2],[197.5,89.2],[201.2,100],[203.9,91.9],[206.3,65],[208,43.5],[210.1,38.2],[211,32.8],[212,23.7],[215.1,24.7],[217.1,11.3],[219.1,5.9],[221.2,14],[223.2,65],[224.9,93.5],[225.9,94.6],[227.3,65],[229.7,19.4],[231,8.6],[233,17.7],[235.5,46.2],[238.5,50.5],[240.2,65],[243,90.9],[244.7,75.8],[247,19.4],[248.4,10.2],[250.1,26.3],[251.8,31.2],[253.8,26.3],[255.9,14],[257.6,22],[259.6,65],[261,89.2],[262.3,89.2],[265,32.8],[267.8,19.4],[269.5,19.4],[271.9,38.2],[273.9,46.2],[277,82.3],[278.7,73.1],[281,38.2],[283.4,8.6],[285.8,7],[288.5,38.2],[291.6,83.9],[293,73.1],[295,19.4],[296,5.9],[297.7,16.7],[299.8,75.8],[301.5,90.9],[303.8,94.6],[305.9,98.4],[308.3,96.2],[310.6,98.9],[313.9,99.5]];
const stochSlowGreen=[[-0.4,8.6],[3,22],[5.4,34.4],[7.5,39.8],[10.9,51.1],[14.9,55.9],[18.3,52.7],[21.1,47.8],[24.5,50],[27.9,59.7],[30.6,67.7],[34.7,84.4],[39.4,86.6],[43.5,91.9],[47.6,97.3],[52.4,100],[57.8,98.4],[61.9,91.9],[66,86.6],[70,74.2],[73.5,76.9],[78.9,80.1],[83,80.1],[87,67.7],[89.8,61.3],[93.2,38.2],[97.3,16.7],[102,1.6],[105.3,7],[107.7,16.7],[112.4,25.3],[116.5,19.4],[121.3,7],[126.7,0.5],[130.1,4.8],[132.9,12.4],[136.3,18.3],[141.7,43.5],[147.8,78.5],[151.2,93],[155.3,100],[161.4,98.4],[168.9,97.3],[178.4,98.4],[185.2,89.2],[190.7,89.2],[194.8,94.6],[198.8,100],[203.6,99.5],[208.6,93],[212.7,86.6],[217.4,79.6],[222.2,82.3],[228.3,83.9],[233.1,85.5],[238.5,82.3],[242.6,86.6],[246.7,78.5],[250.8,67.7],[254.9,38.2],[257.6,27.4],[260.3,28.5],[263,22],[267.8,19.4],[273.2,11.3],[277.3,30.1],[280.7,30.1],[284.1,19.4],[286.8,11.3],[289.9,9.7],[290.9,12.9],[296.4,15],[303.2,21],[307.2,40.9],[313.9,59.7]];
const stochSlowRed=[[-0.4,4.3],[3,8.1],[7.5,19.4],[12.2,38.2],[17,50],[21.1,52.2],[25.8,50],[30.6,57],[34.7,67.7],[39.4,78.5],[43.5,87.6],[47.6,93],[52.4,97.3],[57.8,98.9],[63.2,96.2],[66.6,90.9],[70.7,82.8],[74.8,78],[78.9,76.9],[83,78.5],[87.7,77.4],[91.8,69.4],[96.6,48.9],[100.7,27.4],[105.3,10.2],[107,8.6],[112.4,12.9],[116.5,20.4],[121.3,17.7],[126.7,8.6],[130.8,4.3],[135.6,7],[141,19.4],[147.8,51.6],[152.6,75.8],[157.3,90.9],[162.1,98.4],[171.6,97.3],[178.4,97.3],[185.2,93],[192,90.3],[198.8,96.2],[203.6,98.9],[208.6,98.4],[212.7,94.6],[217.4,87.6],[222.2,82.3],[228.3,83.9],[235.8,83.9],[242.6,84.4],[249.4,82.3],[253.5,73.1],[258.3,50.5],[265,27.4],[273.9,19.4],[280.7,24.2],[286.8,24.7],[295.7,13.4],[303.2,16.7],[307.2,21],[313.9,40.9]];
const stochLevels=[80,50.5,43,20.4];
const stochLevelColors=["#f23645","#787b86","#787b86","#4caf50"];

const svg=d3.select("#c");
const x=d3.scaleLinear().domain([0,314]).range([68.3,1952.3]);
const y=d3.scaleLinear().domain([4660,4060]).range([81,984]);
const yCci=d3.scaleLinear().domain([100,-100]).range([1009,1113]);
const yStoch=d3.scaleLinear().domain([100,0]).range([1125,1187]);
const yStochLabel=d3.scaleLinear().domain([100,0]).range([1124,1190]);
const xVolume=d3.scaleLinear().domain([0,1]).range([65.4,65.4+1/2.063]);
const xRightProfile=d3.scaleLinear().domain([0,1]).range([1952,1951]);
const L=65,R=2196,T=27,B=1221,PT=1005,PS=1117,PE=1194;

svg.append("rect").attr("width",2272).attr("height",1257).attr("fill","#1e222d");
svg.append("rect").attr("x",10.5).attr("y",27).attr("width",2251).attr("height",B-T).attr("fill","#fff").attr("stroke","#50535e");
const defs=svg.append("defs");
defs.append("clipPath").attr("id","main").append("rect").attr("x",L).attr("y",T).attr("width",R-L).attr("height",PT-T);
defs.append("clipPath").attr("id","cci").append("rect").attr("x",L).attr("y",PT).attr("width",R-L).attr("height",PS-PT);
defs.append("clipPath").attr("id","sto").append("rect").attr("x",L).attr("y",PS).attr("width",R-L).attr("height",PE-PS);
defs.append("clipPath").attr("id","tim").append("rect").attr("x",L).attr("y",PE).attr("width",R-L).attr("height",B-PE);
defs.append("clipPath").attr("id","axisCci").append("rect").attr("x",R).attr("y",PT).attr("width",60).attr("height",PS-PT);
defs.append("marker").attr("id","arrow").attr("viewBox","-12 -8 14 16").attr("refX",0).attr("refY",0).attr("markerWidth",14).attr("markerHeight",16).attr("markerUnits","userSpaceOnUse").attr("orient","auto")
  .append("path").attr("d","M-9,-6 L0,0 L-9,6").attr("fill","none").attr("stroke","#5b9cf6").attr("stroke-width",1.5);

const main=svg.append("g").attr("clip-path","url(#main)");
main.append("text").attr("x",1131).attr("y",504).attr("text-anchor","middle").attr("font-size",94).attr("fill","#e9eaec").style("font-family","Roboto").text("US500, 4h");
main.append("text").attr("x",1133).attr("y",588).attr("text-anchor","middle").attr("font-size",47).attr("fill","#e9eaec").style("font-family","Roboto").text("US 500 Index");

// left profile
const rowH=5.316,rowTop=4630.8;
const solid=i=>i>=45&&i<=90;
const rows=main.append("g");
rows.selectAll(".u").data(profileUp).join("rect").attr("x",xVolume(0)).attr("y",(d,i)=>y(rowTop-i*rowH)).attr("width",d=>xVolume(d)-xVolume(0)).attr("height",7).attr("fill",(d,i)=>solid(i)?"#81c784":"#d5ecd6");
rows.selectAll(".d").data(profileDown).join("rect").attr("x",(d,i)=>xVolume(profileUp[i])).attr("y",(d,i)=>y(rowTop-i*rowH)).attr("width",d=>xVolume(d)-xVolume(0)).attr("height",7).attr("fill",(d,i)=>solid(i)?"#f77c78":"#fbd1cd");

// right profile
const stripes=[];rightProfile.forEach((w,i)=>{[0,1,2].forEach(k=>stripes.push({p:4620+2.5-i*5-k*5/3,w}))});
main.append("g").selectAll("rect").data(stripes).join("rect").attr("x",d=>xRightProfile(d.w)).attr("y",d=>y(d.p)).attr("width",d=>xRightProfile(0)-xRightProfile(d.w)).attr("height",1.8).attr("fill","#dddee1");

// pivots
const pv=main.append("g");
pv.selectAll("line").data(pivotValues).join("line").attr("x1",1904).attr("x2",2084).attr("y1",d=>y(d)).attr("y2",d=>y(d)).attr("stroke","#a5a8b2").attr("stroke-width",1);
pv.selectAll("text").data(pivotNames).join("text").attr("x",1888).attr("y",(d,i)=>y(pivotValues[i])+4.5).attr("text-anchor","end").attr("font-size",13).attr("fill","#b2b5be").style("font-family","Roboto").text(d=>d);

const ln=d3.line().x(d=>x(d[0])).y(d=>y(d[1]));
function path(sel,data,color,w,dash){return sel.append("path").attr("d",ln(data)).attr("fill","none").attr("stroke",color).attr("stroke-width",w).attr("stroke-dasharray",dash||null)}
const bands=main.append("g");
path(bands,bandUpperOuter,"rgba(247,124,128,.2)",1.2);
path(bands,bandUpperInner,"rgba(247,124,128,.2)",1.2);
path(bands,bandLowerInner,"rgba(129,199,132,.26)",1.2);
path(bands,bandLowerOuter,"rgba(129,199,132,.26)",1.2);
path(bands,bandMid.filter(d=>d[0]<=90),"rgba(129,199,132,.26)",1.2);
path(bands,bandMid.filter(d=>d[0]>=89&&d[0]<=148),"rgba(247,124,128,.28)",1.2);
path(bands,bandMid.filter(d=>d[0]>=147),"rgba(129,199,132,.28)",1.2);
path(bands,stepRed,"rgba(247,124,128,.55)",1.5);
path(bands,stepOrange,"rgba(255,183,77,.5)",1.5);
path(bands,stepGreen,"rgba(129,199,132,.55)",1.5);
trendGray.forEach(t=>path(main,t,"#bcbec6",1.5));
trendPale.forEach(t=>path(main,t,"#d8d9dd",1.2));

// candles
const c=main.append("g");
c.selectAll("line").data(candleRows).join("line").attr("x1",(d,i)=>x(i)).attr("x2",(d,i)=>x(i)).attr("y1",d=>y(d[2])).attr("y2",d=>y(d[3])).attr("stroke","#000").attr("stroke-width",1);
c.selectAll("rect").data(candleRows).join("rect").attr("x",(d,i)=>x(i)-2.5).attr("width",5).attr("y",d=>y(d[0])).attr("height",d=>Math.max(1,y(d[1])-y(d[0]))).attr("fill",(d,i)=>candleDirections[i]=="G"?"#008000":"#ff0000");

// pivots dots
main.append("g").selectAll("circle").data(pivotHighs).join("circle").attr("cx",d=>x(d[0])).attr("cy",d=>y(d[1])).attr("r",4.8).attr("fill","#f26f6f").attr("opacity",.6);
main.append("g").selectAll("circle").data(pivotLows).join("circle").attr("cx",d=>x(d[0])).attr("cy",d=>y(d[1])).attr("r",4.8).attr("fill","#4caf50").attr("opacity",.55);

// levels
const level=(p,x1,color,w)=>main.append("line").attr("x1",x1).attr("x2",R).attr("y1",y(p)).attr("y2",y(p)).attr("stroke",color).attr("stroke-width",w);
levelOrange.forEach(p=>level(p,1904,"#ffb74d",1.4));
levelGreen.forEach(p=>level(p,1940,"#69f0ae",1.8));
level(levelPurple,1688,"#ea80fc",1.2);
level(levelRed,L,"#ff0000",1.6);
main.append("line").attr("x1",L).attr("x2",1952).attr("y1",y(levelRed)+1.8).attr("y2",y(levelRed)+1.8).attr("stroke","#ff0000").attr("stroke-width",1).attr("stroke-dasharray","1,1");
main.append("line").attr("x1",L).attr("x2",R).attr("y1",y(lastPrice)).attr("y2",y(lastPrice)).attr("stroke","#008000").attr("stroke-width",1).attr("stroke-dasharray","1.5,2");
path(main,forecastPath,"#5b9cf6",1.5).attr("marker-end","url(#arrow)");

// bolt
const b=svg.append("g").attr("transform","translate(1953,992)");
b.append("circle").attr("r",8.5).attr("fill","#fff").attr("stroke","#9c27b0").attr("stroke-width",1.5);
b.append("path").attr("d","M2.5,-6.5 L-4.5,1.5 L-0.8,1.5 L-2.5,6.5 L4.5,-1.5 L0.8,-1.5 Z").attr("fill","#9c27b0");

// CCI
const cci=svg.append("g").attr("clip-path","url(#cci)");
cci.append("line").attr("x1",L).attr("x2",1952).attr("y1",yCci(0)).attr("y2",yCci(0)).attr("stroke","#434651").attr("stroke-width",1.5);
const lnCci=d3.line().x(d=>x(d[0])).y(d=>yCci(d[1]));
cci.selectAll("path").data(d3.pairs(cciPoints)).join("path").attr("d",d=>lnCci(d)).attr("fill","none").attr("stroke",d=>d[1][1]<=0?"#f88880":"#8acb8d").attr("stroke-width",3.9).attr("stroke-linecap","round");
cci.append("path").attr("d",lnCci(cciTrend)).attr("stroke","#ff9800").attr("stroke-width",2).attr("fill","none");

// Stoch
const st=svg.append("g").attr("clip-path","url(#sto)");
stochLevels.forEach((v,i)=>st.append("line").attr("x1",L).attr("x2",R).attr("y1",Math.round(yStoch(v))+.5).attr("y2",Math.round(yStoch(v))+.5).attr("stroke",stochLevelColors[i]).attr("stroke-width",1));
st.append("line").attr("x1",L).attr("x2",R).attr("y1",yStoch(49.5)).attr("y2",yStoch(49.5)).attr("stroke","#b2b5be").attr("stroke-width",1).attr("stroke-dasharray","4,3");
const lnS=d3.line().x(d=>x(d[0])).y(d=>yStoch(d[1]));
[[stochSlowGreen,"#5fb263"],[stochSlowRed,"#f2555a"],[stochFastGreen,"#5fb263"],[stochFastRed,"#f2555a"]].forEach(s=>st.append("path").attr("d",lnS(s[0])).attr("fill","none").attr("stroke",s[1]).attr("stroke-width",1.1));

// frame lines
const hl=(yy,c,x1=10.5,x2=2261)=>svg.append("line").attr("x1",x1).attr("x2",x2).attr("y1",yy).attr("y2",yy).attr("stroke",c).attr("stroke-width",1);
hl(PT,"#e0e3eb");hl(PS,"#e0e3eb");hl(PE,"#787b86");
svg.append("line").attr("x1",L).attr("x2",L).attr("y1",T).attr("y2",B).attr("stroke","#787b86");
svg.append("line").attr("x1",R).attr("x2",R).attr("y1",T).attr("y2",B).attr("stroke","#787b86");

// axes
const axisStyle=g=>{g.select(".domain").remove();g.selectAll("line").remove();g.selectAll("text").attr("fill","#131722").attr("font-size",12.5)};
svg.append("g").attr("transform",`translate(${R},0)`).call(d3.axisRight(y).tickValues(priceTicks).tickFormat(d3.format(".1f")).tickSize(0).tickPadding(7)).call(axisStyle);
svg.append("g").attr("clip-path","url(#axisCci)").append("g").attr("transform",`translate(${R},0)`).call(d3.axisRight(yCci).tickValues([100,0,-100]).tickFormat(d=>d3.format(".1f")(d).replace("-","−")).tickSize(0).tickPadding(7)).call(axisStyle);
svg.append("g").attr("transform",`translate(${R},0)`).call(d3.axisRight(yStochLabel).tickValues([100,50,0]).tickFormat(d3.format(".2f")).tickSize(0).tickPadding(7)).call(axisStyle);
svg.append("g").attr("transform",`translate(${L},0)`).call(d3.axisLeft(yStochLabel).tickValues([100,50,0]).tickFormat(d3.format(".2f")).tickSize(0).tickPadding(7)).call(axisStyle);
const tg=svg.append("g").attr("clip-path","url(#tim)");
tg.selectAll("text").data(timeTickLabels).join("text").attr("x",(d,i)=>x(timeTickBars[i])).attr("y",1212.5).attr("text-anchor","middle").attr("font-size",12.5).attr("fill","#131722").attr("font-weight",d=>timeTickBold.includes(d)?700:400).text(d=>d);

// price label + USD + buttons
svg.append("rect").attr("x",R).attr("y",124).attr("width",61).attr("height",30).attr("rx",2).attr("fill","#008000");
svg.append("text").attr("x",R+8).attr("y",137).attr("font-size",12.5).attr("fill","#fff").text("4626.2");
svg.append("text").attr("x",R+8).attr("y",150).attr("font-size",12.5).attr("fill","#bfe0bf").text("01:59:05");
svg.append("rect").attr("x",2200).attr("y",31).attr("width",58).attr("height",26).attr("rx",4).attr("fill","#fff").attr("stroke","#f0f3fa").attr("stroke-width",1.5);
svg.append("text").attr("x",2221).attr("y",49).attr("text-anchor","middle").attr("font-size",12.5).attr("fill","#131722").text("USD");
[[38,"Z"],[2229,"A"]].forEach(z=>{svg.append("circle").attr("cx",z[0]).attr("cy",1208).attr("r",9.5).attr("fill","#f0f3fa");svg.append("text").attr("x",z[0]).attr("y",1212).attr("text-anchor","middle").attr("font-size",11).attr("fill","#50535e").text(z[1])});

// header/footer
svg.append("text").attr("x",10).attr("y",20).attr("font-size",13).attr("fill","#d1d4dc").style("font-family","Roboto").text("Tickmill published on TradingView.com, Dec 12, 2023 04:00 UTC-5");
svg.append("path").attr("d","M10,1234 h11 v11 h-5 v-6 h-6 Z M27,1234 h3 l-4,11 h-4 Z").attr("fill","#d1d4dc");
svg.append("circle").attr("cx",24).attr("cy",1236.5).attr("r",2).attr("fill","#d1d4dc");
svg.append("text").attr("x",33).attr("y",1245).attr("font-size",15).attr("font-weight",500).attr("fill","#d1d4dc").text("TradingView");
</script></body></html>
